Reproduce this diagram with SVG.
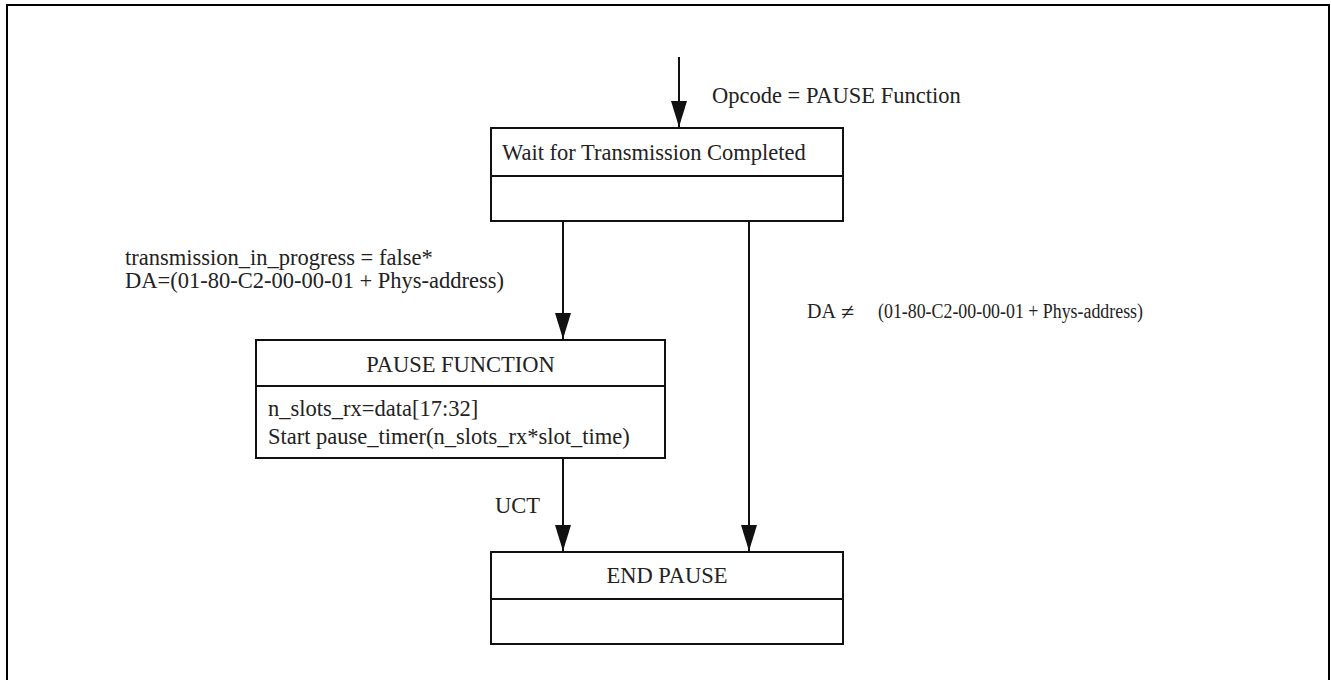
<svg xmlns="http://www.w3.org/2000/svg" width="1331" height="680" viewBox="0 0 1331 680">
<style>
.t{font-family:"Liberation Serif","Times New Roman",serif;font-size:22.5px;fill:#222}
.box{fill:#fff;stroke:#111;stroke-width:2}
.div{stroke:#111;stroke-width:2}
.conn{stroke:#111;stroke-width:2;fill:none}
</style>
<defs>
<marker id="ah" markerUnits="userSpaceOnUse" markerWidth="28" markerHeight="18" viewBox="0 0 28 18" refX="27" refY="9" orient="auto">
<path d="M1,1 L27,9 L1,17 Z" fill="#111"/>
</marker>
</defs>
<rect width="1331" height="680" fill="#fff"/>
<rect x="7" y="5" width="1322" height="700" fill="none" stroke="#000" stroke-width="2"/>
<g id="connectors">
<line class="conn" x1="679" y1="57" x2="679" y2="127" marker-end="url(#ah)"/>
<line class="conn" x1="563" y1="221" x2="563" y2="339" marker-end="url(#ah)"/>
<line class="conn" x1="749" y1="221" x2="749" y2="551" marker-end="url(#ah)"/>
<line class="conn" x1="563" y1="458" x2="563" y2="551" marker-end="url(#ah)"/>
<text class="t" x="712" y="103">Opcode = PAUSE Function</text>
<text class="t" x="125" y="265">transmission_in_progress = false*</text>
<text class="t" x="125" y="288">DA=(01-80-C2-00-00-01 + Phys-address)</text>
<text class="t" x="807" y="318" style="font-size:20px">DA</text>
<text class="t" x="841" y="320" style="font-size:24px">≠</text>
<text class="t" x="878" y="318" style="font-size:20px" textLength="265" lengthAdjust="spacingAndGlyphs">(01-80-C2-00-00-01 + Phys-address)</text>
<text class="t" x="495" y="513">UCT</text>
</g>
<g id="wait">
<rect class="box" x="491" y="128" width="352" height="93"/>
<line class="div" x1="491" y1="176" x2="843" y2="176"/>
<text class="t" x="502" y="160">Wait for Transmission Completed</text>
</g>
<g id="pause">
<rect class="box" x="256" y="340" width="409" height="118"/>
<line class="div" x1="256" y1="386" x2="665" y2="386"/>
<text class="t" x="460.5" y="372" text-anchor="middle">PAUSE FUNCTION</text>
<text class="t" x="268" y="416">n_slots_rx=data[17:32]</text>
<text class="t" x="268" y="444">Start pause_timer(n_slots_rx*slot_time)</text>
</g>
<g id="endpause">
<rect class="box" x="491" y="552" width="352" height="92"/>
<line class="div" x1="491" y1="599" x2="843" y2="599"/>
<text class="t" x="667" y="583" text-anchor="middle">END PAUSE</text>
</g>
</svg>
